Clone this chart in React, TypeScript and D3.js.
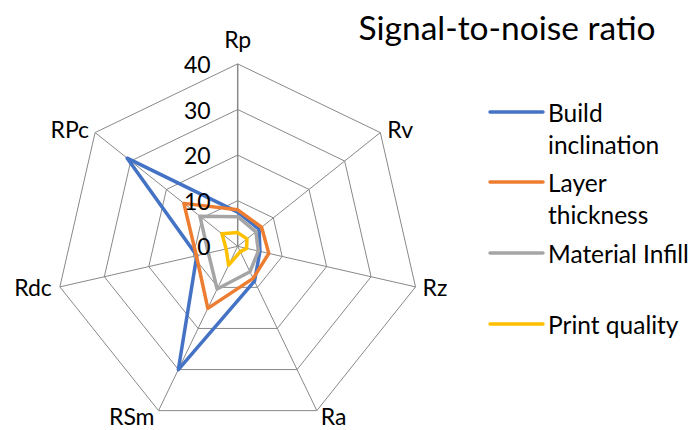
import React from "react";
import * as d3 from "d3";

// Axes of the radar, clockwise from the top
const axes = ["Rp", "Rv", "Rz", "Ra", "RSm", "Rdc", "RPc"];
const ticks = [0, 10, 20, 30, 40];

const seriesNames = ["Build inclination", "Layer thickness", "Material Infill", "Print quality"];
const buildInclination = [7.5, 6.0, 5.0, 8.5, 30, 9.2, 31];
const layerThickness = [8.0, 6.7, 7.0, 7.8, 15.1, 9.3, 15.1];
const materialInfill = [6.5, 5.1, 4.65, 6.2, 10.4, 6.6, 10.6];
const printQuality = [3.0, 2.6, 2.0, 1.3, 4.6, 2.6, 4.4];
const seriesColors = ["#4472C4", "#ED7D31", "#A5A5A5", "#FFC000"];

const W = 693;
const H = 430;
const cx = 237.7;
const cy = 246.3;
const R = 182.4;
const font = "Lato, 'Open Sans', sans-serif";
const fs = 23;
const legendFs = 24.5;

export default function App() {
  const r = d3.scaleLinear().domain([0, 40]).range([0, R]);
  const angle = d3
    .scalePoint<string>()
    .domain(axes)
    .range([0, (2 * Math.PI * (axes.length - 1)) / axes.length]);

  const pt = (a: string, v: number): [number, number] => {
    const t = angle(a)!;
    return [cx + r(v) * Math.sin(t), cy - r(v) * Math.cos(t)];
  };

  const ring = (v: number) =>
    d3.line<string>().x((a) => pt(a, v)[0]).y((a) => pt(a, v)[1]).curve(d3.curveLinearClosed)(axes)!;

  const radial = (vals: number[]) =>
    d3
      .line<number>()
      .x((v, i) => pt(axes[i], v)[0])
      .y((v, i) => pt(axes[i], v)[1])
      .curve(d3.curveLinearClosed)(vals)!;

  const allSeries = [buildInclination, layerThickness, materialInfill, printQuality];

  // label placement offsets per axis
  const labelOffsets: Record<string, [number, number, string]> = {
    Rp: [0, -25, "middle"],
    Rv: [7, -4, "start"],
    Rz: [7, 0, "start"],
    Ra: [4, 5, "start"],
    RSm: [-4, 5, "end"],
    Rdc: [-8, 0, "end"],
    RPc: [-6, -4, "end"],
  };

  const legendLines = [["Build", "inclination"], ["Layer", "thickness"], ["Material Infill"], ["Print quality"]];
  const legendY = [112, 182, 253, 324];

  return (
    <svg
      width={W}
      height={H}
      style={{ position: "absolute", left: 0, top: 0, background: "#fff" }}
      fontFamily={font}
    >
      <text x={507} y={27} fontSize={33.5} textAnchor="middle" dominantBaseline="central" fill="#000">
        Signal-to-noise ratio
      </text>

      {/* grid rings */}
      {ticks.slice(1).map((t) => (
        <path key={t} d={ring(t)} fill="none" stroke="#898989" strokeWidth={1} />
      ))}
      {/* spokes */}
      {axes.map((a) => {
        const [x, y] = pt(a, 40);
        return <line key={a} x1={cx} y1={cy} x2={x} y2={y} stroke="#898989" strokeWidth={a === "Rp" ? 1.5 : 1} />;
      })}

      {/* series */}
      {allSeries.map((vals, i) => (
        <path
          key={seriesNames[i]}
          d={radial(vals)}
          fill="none"
          stroke={seriesColors[i]}
          strokeWidth={3.5}
          strokeLinejoin="round"
        />
      ))}

      {/* tick labels */}
      {ticks.map((t) => (
        <text
          key={t}
          x={cx - 27}
          y={pt("Rp", t)[1]}
          fontSize={fs}
          textAnchor="end"
          dominantBaseline="central"
          fill="#000"
        >
          {t}
        </text>
      ))}

      {/* axis labels */}
      {axes.map((a) => {
        const [x, y] = pt(a, 40);
        const [dx, dy, anchor] = labelOffsets[a];
        return (
          <text
            key={a}
            x={x + dx}
            y={y + dy}
            fontSize={fs}
            textAnchor={anchor}
            dominantBaseline="central"
            fill="#000"
          >
            {a}
          </text>
        );
      })}

      {/* legend */}
      {seriesNames.map((n, i) => (
        <g key={n}>
          <line x1={490} x2={543} y1={legendY[i]} y2={legendY[i]} stroke={seriesColors[i]} strokeWidth={3.5} strokeLinecap="round" />
          {legendLines[i].map((s, j) => (
            <text key={j} x={548} y={legendY[i] + j * 32} fontSize={legendFs} dominantBaseline="central" fill="#000">
              {s}
            </text>
          ))}
        </g>
      ))}
    </svg>
  );
}
